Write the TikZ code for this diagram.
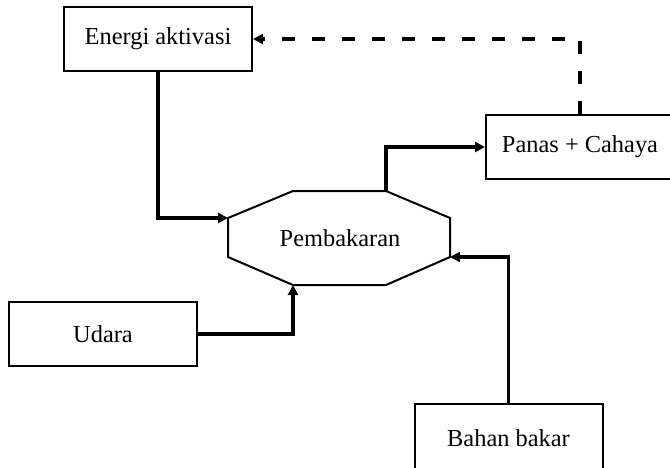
\documentclass[tikz,border=0pt]{standalone}
\usepackage{fontspec}
\setmainfont{Liberation Serif}
\usepackage{tikz}
\usetikzlibrary{arrows.meta, positioning, calc}

\begin{document}
\begin{tikzpicture}[x=0.5pt, y=-0.5pt,
    every node/.style={font=\fontsize{12.2}{14}\selectfont},
    box/.style={draw, line width=1pt, minimum width=94pt, minimum height=32pt, inner sep=0pt},
    flow/.style={line width=1.75pt, -{Triangle[length=5pt, width=5pt]}}]
    \useasboundingbox (0,0) rectangle (670,467);
    % Boxes
    \node[box] (energi) at (158,39) {Energi aktivasi};
    \node[box] (panas) at (580,147) {Panas + Cahaya};
    \node[box] (udara) at (103,334) {Udara};
    \node[box, minimum height=34pt] (bahan) at (508.5,438) {Bahan bakar};
    % Octagon
    \coordinate (ul) at (228,218);
    \coordinate (tl) at (293,191);
    \coordinate (tr) at (386,191);
    \coordinate (ur) at (450,218);
    \coordinate (lr) at (450,257);
    \coordinate (br) at (386,285);
    \coordinate (bl) at (293,285);
    \coordinate (ll) at (228,257);
    \draw[line width=1pt] (ul) -- (tl) -- (tr) -- (ur) -- (lr) -- (br) -- (bl) -- (ll) -- cycle;
    \node (burn) at (340,238) {Pembakaran};
    % Arrows
    \draw[flow] (energi.south) |- (ul);
    \draw[flow] (tr) |- (panas.west);
    \draw[flow] (udara.east) -| (bl);
    \draw[flow] (bahan.north) |- (lr);
    \draw[flow, dash pattern=on 6.5pt off 8.5pt] (panas.north) |- (energi.east);
\end{tikzpicture}
\end{document}
